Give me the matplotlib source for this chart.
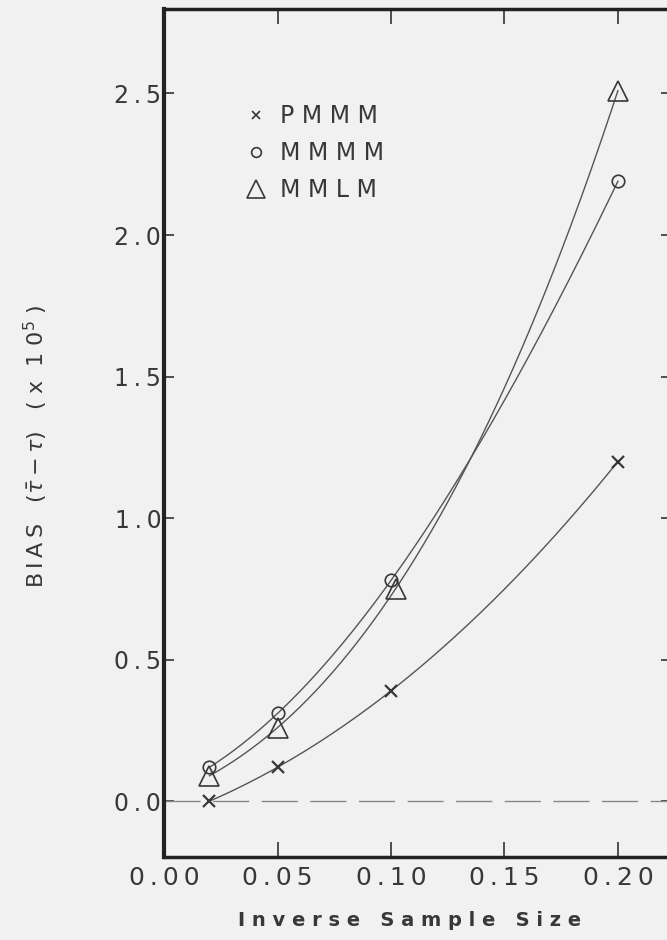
import numpy as np
import matplotlib
matplotlib.use('Agg')
import matplotlib.pyplot as plt
from matplotlib.lines import Line2D

# inverse sample size
inv_n = [0.02, 0.05, 0.10, 0.20]
x_mmlm = [0.02, 0.05, 0.102, 0.20]

# bias (x 1e5)
pmmm = [0.0, 0.12, 0.39, 1.20]
mmmm = [0.12, 0.31, 0.78, 2.19]
mmlm = [0.09, 0.26, 0.75, 2.51]

x_ticks = [0.00, 0.05, 0.10, 0.15, 0.20]
y_ticks = [0.0, 0.5, 1.0, 1.5, 2.0, 2.5]
names = ['PMMM', 'MMMM', 'MMLM']

ink = '#383838'
bg = '#f1f1f1'
plt.rcParams['font.family'] = ['DejaVu Sans']


def spaced(s, gap=' '):
    # the scanned figure uses wide letter spacing
    return gap.join(s)


fig = plt.figure(figsize=(6.67, 9.4), dpi=100, facecolor=bg)
ax = fig.add_axes([0.246, 0.088, 0.760, 0.902], facecolor=bg)


def smooth(xs, ys):
    c = np.polyfit(xs, ys, 3)
    xx = np.linspace(xs[0], xs[-1], 200)
    return xx, np.polyval(c, xx)


for xs, ys in [(inv_n, pmmm), (inv_n, mmmm), (x_mmlm, mmlm)]:
    xx, yy = smooth(xs, ys)
    ax.plot(xx, yy, color='#555555', lw=1.0)

ax.plot(inv_n, pmmm, ls='none', marker='x', ms=8, mew=1.6, color=ink)
ax.plot(inv_n, mmmm, ls='none', marker='o', ms=9, mew=1.2, mfc='none', color=ink)
ax.plot(x_mmlm, mmlm, ls='none', marker='^', ms=15, mew=1.2, mfc='none', color=ink)

ax.axhline(0, color='#888888', lw=1.0, dashes=(26, 9))

ax.set_xlim(0.0, 0.2234)
ax.set_ylim(-0.198, 2.797)
ax.set_xticks(x_ticks)
ax.set_xticklabels([spaced(f'{v:.2f}', '\u2009') for v in x_ticks])
ax.set_yticks(y_ticks)
ax.set_yticklabels([spaced(f'{v:.1f}', '\u2009') for v in y_ticks])

for s in ax.spines.values():
    s.set_linewidth(2.5)
    s.set_color('#222222')
ax.spines['left'].set_linewidth(3)

ax.tick_params(axis='x', direction='in', length=11, width=1.2, top=True,
               labelsize=18, labelcolor=ink, pad=6, color='#333333')
ax.tick_params(axis='y', direction='in', length=7, width=1.2, right=True,
               labelsize=17, labelcolor=ink, pad=2, color='#333333')

xlab = '   '.join(spaced(w) for w in ['Inverse', 'Sample', 'Size'])
ax.set_xlabel(xlab, fontsize=14, fontweight='bold', color=ink)
ax.xaxis.set_label_coords(0.485, -0.063)

ylab = ('B\u2009I\u2009A\u2009S   ($\\bar{\\tau}-\\tau$)   '
        '( x  1 0$^{5}$ )')
ax.set_ylabel(ylab, fontsize=16, color=ink)
ax.yaxis.set_label_coords(-0.225, 0.485)

handles = [
    Line2D([], [], ls='none', marker='x', ms=6, mew=1.2, color=ink),
    Line2D([], [], ls='none', marker='o', ms=7, mew=1.2, mfc='none', color=ink),
    Line2D([], [], ls='none', marker='^', ms=13, mew=1.2, mfc='none', color=ink),
]
ax.legend(handles, [spaced(n) for n in names], loc='upper left',
          bbox_to_anchor=(0.158, 0.888), frameon=False, fontsize=17,
          labelcolor=ink, handlelength=1.0, handletextpad=0.52,
          labelspacing=0.55, borderpad=0, borderaxespad=0)

fig.savefig('out.png', dpi=100, facecolor=bg)
